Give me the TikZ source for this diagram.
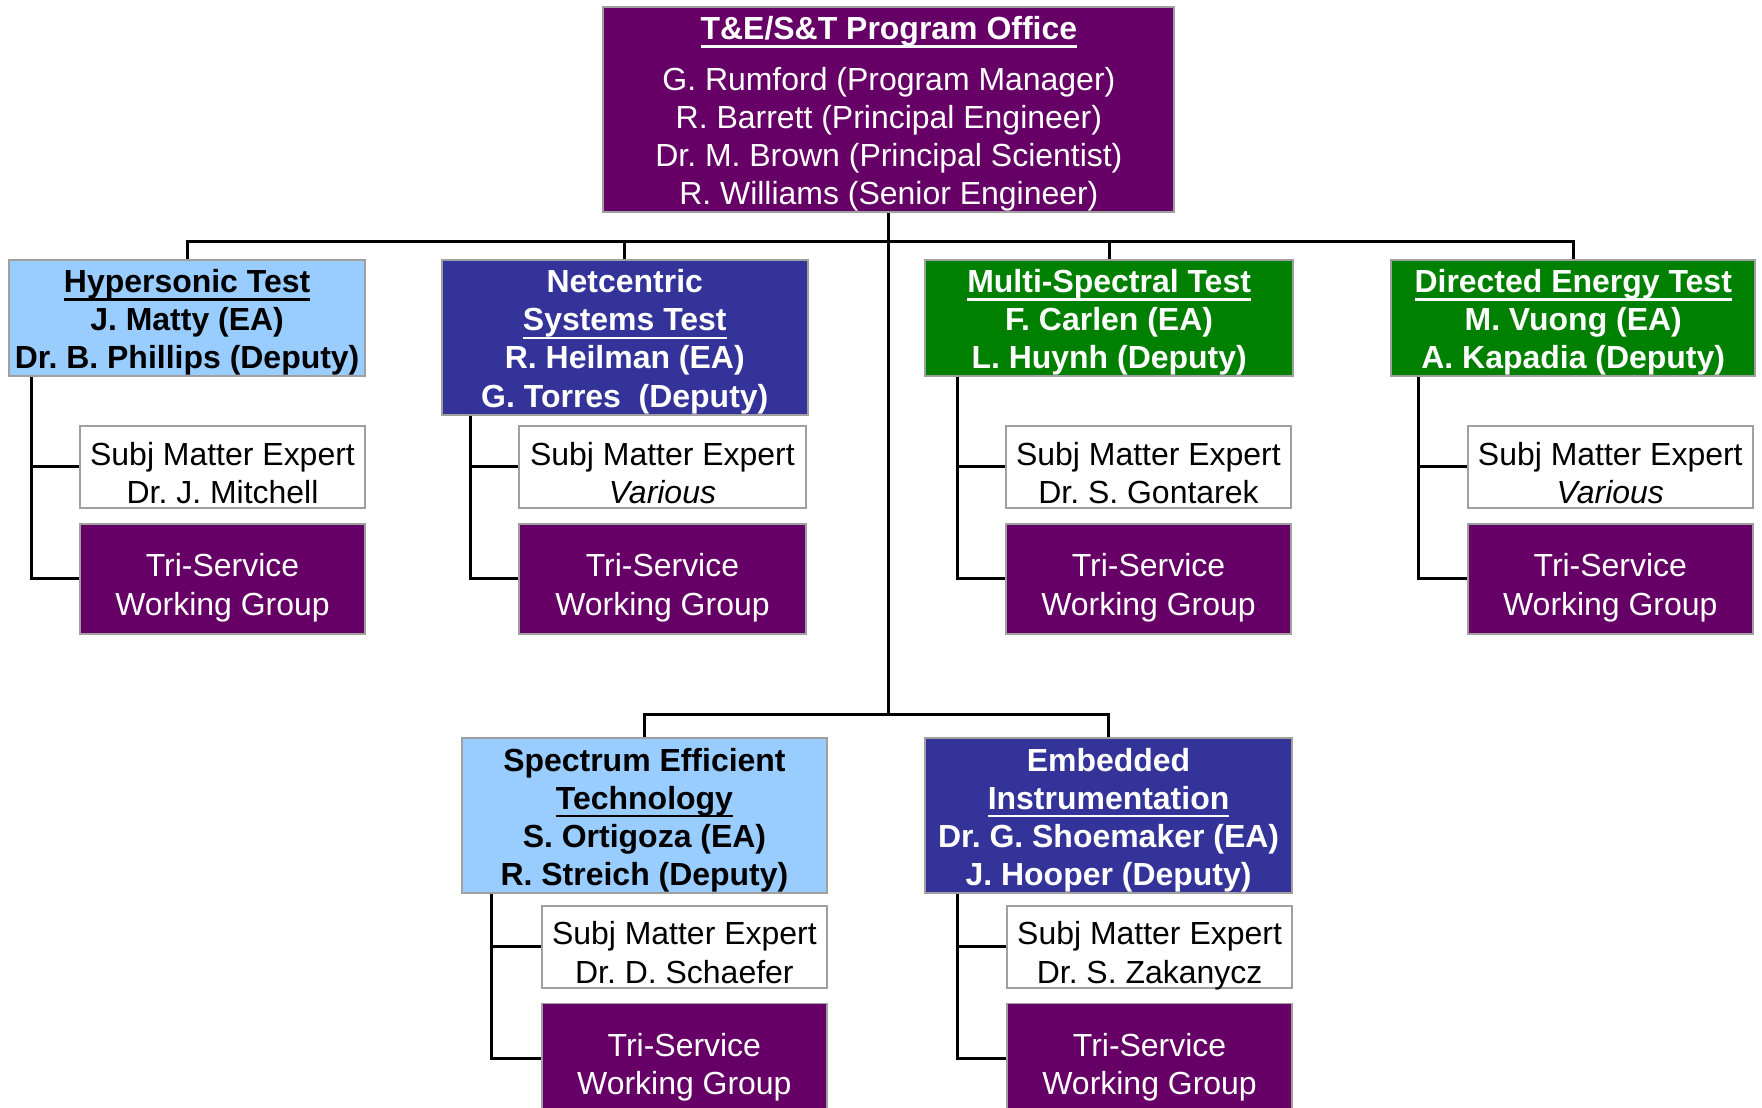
\documentclass[tikz,border=0pt]{standalone}
\usepackage{fontspec}
\setmainfont{Liberation Sans}
\usetikzlibrary{calc}
\definecolor{pur}{HTML}{660066}
\definecolor{lblue}{HTML}{99CCFF}
\definecolor{dblue}{HTML}{333399}
\definecolor{grn}{HTML}{008000}
\definecolor{edge}{HTML}{A0A0A0}
\newcommand\myul[1]{\relax\leavevmode\vtop{\hbox{\raisebox{0pt}[\height][0pt]{#1}}\kern2.3pt\hrule height0.9pt}}
\begin{document}
\frenchspacing
\begin{tikzpicture}[x=0.45pt,y=-0.45pt,
  txt/.style={font=\fontsize{12.8}{15.3}\selectfont\frenchspacing},
  btxt/.style={font=\fontsize{12.8}{15.3}\selectfont\bfseries\frenchspacing},
  spanbox/.style n args={4}{at={({(#1+#3)/2},{(#2+#4)/2})},
     minimum width={(#3-#1)*0.45pt}, minimum height={(#4-#2)*0.45pt}},
  box/.style={draw=edge, line width=0.8pt, inner sep=0pt},
  label text/.style={inner sep=0pt, align=center,
     execute at begin node={\rule{0pt}{12.5pt}}},
  pbox/.style={box, fill=pur},
  lbbox/.style={box, fill=lblue},
  dbbox/.style={box, fill=dblue},
  gbox/.style={box, fill=grn},
  wbox/.style={box, fill=white},
  headtext/.style={label text, btxt, yshift=-1.8pt},
  officetext/.style={label text, txt, text=white, yshift=-1.8pt},
  smetext/.style={label text, txt, text=black, yshift=-3.75pt,
     execute at end node={\rule[-3pt]{0pt}{3pt}}},
  tswtext/.style={label text, txt, text=white, yshift=-3.6pt},
  link/.style={line width=1.2pt, black}]
\useasboundingbox (0,0) rectangle (1568,986);
\clip (0,0) rectangle (1568,986);

% program office
\node[pbox, spanbox={537}{6}{1045}{189}] (po) {};
\node[officetext] (po-t) at (po.center) {\textbf{\myul{T\&E/S\&T Program Office}}\\[5pt]
  G. Rumford (Program Manager)\\ R. Barrett (Principal Engineer)\\
  Dr. M. Brown (Principal Scientist)\\ R. Williams (Senior Engineer)};

% groups
\node[lbbox, spanbox={8}{231}{325}{335}] (g1) {};
\node[headtext, text=black] (g1-t) at (g1.center) {\myul{Hypersonic Test}\\ J. Matty (EA)\\ Dr. B. Phillips (Deputy)};
\node[dbbox, spanbox={393}{231}{719}{369}] (g2) {};
\node[headtext, text=white] (g2-t) at (g2.center) {Netcentric\\ \myul{Systems Test}\\ R. Heilman (EA)\\ G. Torres\ \ (Deputy)};
\node[gbox, spanbox={823}{231}{1151}{335}] (g3) {};
\node[headtext, text=white] (g3-t) at (g3.center) {\myul{Multi-Spectral Test}\\ F. Carlen (EA)\\ L. Huynh (Deputy)};
\node[gbox, spanbox={1238}{231}{1562}{335}] (g4) {};
\node[headtext, text=white] (g4-t) at (g4.center) {\myul{Directed Energy Test}\\ M. Vuong (EA)\\ A. Kapadia (Deputy)};
\node[lbbox, spanbox={411}{657}{736}{795}] (g5) {};
\node[headtext, text=black] (g5-t) at (g5.center) {Spectrum Efficient\\ \myul{Technology}\\ S. Ortigoza (EA)\\ R. Streich (Deputy)};
\node[dbbox, spanbox={823}{657}{1150}{795}] (g6) {};
\node[headtext, text=white] (g6-t) at (g6.center) {Embedded\\ \myul{Instrumentation}\\ Dr. G. Shoemaker (EA)\\ J. Hooper (Deputy)};

% subject matter experts
\node[wbox, spanbox={71}{379}{325}{452}] (s1) {};
\node[smetext] (s1-t) at (s1.center) {Subj Matter Expert\\ Dr. J. Mitchell};
\node[wbox, spanbox={462}{379}{717}{452}] (s2) {};
\node[smetext] (s2-t) at (s2.center) {Subj Matter Expert\\ \textit{Various}};
\node[wbox, spanbox={895}{379}{1149}{452}] (s3) {};
\node[smetext] (s3-t) at (s3.center) {Subj Matter Expert\\ Dr. S. Gontarek};
\node[wbox, spanbox={1306}{379}{1560}{452}] (s4) {};
\node[smetext] (s4-t) at (s4.center) {Subj Matter Expert\\ \textit{Various}};
\node[wbox, spanbox={482}{806}{736}{879}] (s5) {};
\node[smetext] (s5-t) at (s5.center) {Subj Matter Expert\\ Dr. D. Schaefer};
\node[wbox, spanbox={896}{806}{1150}{879}] (s6) {};
\node[smetext] (s6-t) at (s6.center) {Subj Matter Expert\\ Dr. S. Zakanycz};

% tri-service working groups
\foreach \n/\xa/\ya/\xb/\yb in {t1/71/466/325/564, t2/462/466/717/564, t3/895/466/1149/564,
    t4/1306/466/1560/564, t5/482/893/736/991, t6/896/893/1150/991} {
  \node[pbox, spanbox={\xa}{\ya}{\xb}{\yb}] (\n) {};
  \node[tswtext] (\n-t) at (\n.center) {Tri-Service\\ Working Group};
}

% connectors
\coordinate (bar) at ($(po.south)+(0,25)$);
\coordinate (lbar) at ($(po.south)+(0,446)$);
\draw[link] (po.south) -- (bar) -- (lbar);
\foreach \g in {g1,g2,g3,g4} \draw[link] (bar) -| (\g.north);
\foreach \g in {g5,g6} \draw[link] (lbar) -| (\g.north);

\foreach \g/\s/\t/\d in {g1/s1/t1/21, g2/s2/t2/27, g3/s3/t3/30, g4/s4/t4/25, g5/s5/t5/27, g6/s6/t6/30} {
  \draw[link] ($(\g.south west)+(\d,0)$) |- (\s.west);
  \draw[link] ($(\g.south west)+(\d,0)$) |- (\t.west);
}
\end{tikzpicture}
\end{document}
